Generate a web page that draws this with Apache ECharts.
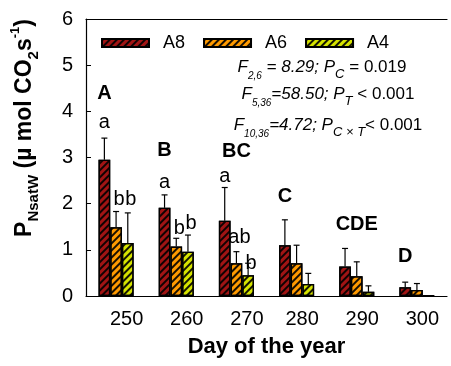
<!DOCTYPE html>
<html>
<head>
<meta charset="utf-8">
<script src="https://cdn.jsdelivr.net/npm/echarts@6/dist/echarts.min.js"></script>
<style>
  html, body { margin: 0; padding: 0; background: #fff; }
  #chart { width: 451px; height: 366px; }
</style>
</head>
<body>
<div id="chart"></div>
<script>
// day of the year
var days = ['250', '260', '270', '280', '290', '300'];
var seriesNames = ['A8', 'A6', 'A4'];

// means
var a8 = [2.95, 1.91, 1.63, 1.10, 0.64, 0.19];
var a6 = [1.49, 1.07, 0.71, 0.71, 0.43, 0.13];
var a4 = [1.15, 0.96, 0.45, 0.26, 0.09, 0.01];

// upper error (SD)
var a8Err = [0.47, 0.28, 0.72, 0.55, 0.39, 0.11];
var a6Err = [0.34, 0.18, 0.25, 0.39, 0.31, 0.14];
var a4Err = [0.65, 0.36, 0.26, 0.23, 0.13, 0];

// significance letters: [day index, bar index, y value, text]
var letters = [
    [0, 0, 4.38, 'A'], [0, 0, 3.75, 'a'], [0, 1, 2.08, 'b'], [0, 2, 2.08, 'b'],
    [1, 0, 3.15, 'B'], [1, 0, 2.45, 'a'], [1, 1, 1.47, 'b'], [1, 2, 1.58, 'b'],
    [2, 1, 3.13, 'BC'], [2, 0, 2.58, 'a'], [2, 1, 1.26, 'ab'], [2, 2, 0.71, 'b'],
    [3, 0, 2.15, 'C'], [4, 1, 1.54, 'CDE'], [5, 0, 0.85, 'D']
];

var colors = ['#a11414', '#ff9a00', '#d6e400'];
var means = [a8, a6, a4];
var errs = [a8Err, a6Err, a4Err];

var FONT = '"Liberation Sans", Arial, sans-serif';
var BAR_W = 11.7;

function hatch() {
    return {
        symbol: 'rect',
        symbolSize: 1,
        color: 'rgba(0,0,0,0.9)',
        dashArrayX: [1, 0],
        dashArrayY: [1.1, 2.6],
        rotation: -Math.PI / 4
    };
}

var chart = echarts.init(document.getElementById('chart'));

var series = [];

// bars
seriesNames.forEach(function (name, k) {
    series.push({
        name: name,
        type: 'bar',
        data: means[k],
        barWidth: BAR_W,
        barGap: '0%',
        itemStyle: {
            color: colors[k],
            borderColor: '#000',
            borderWidth: 1.3,
            decal: hatch()
        },
        z: 2
    });
});

// error bars (upper only)
seriesNames.forEach(function (name, k) {
    var data = means[k].map(function (v, i) { return [i, v, errs[k][i]]; });
    series.push({
        type: 'custom',
        data: data,
        silent: true,
        z: 3,
        renderItem: function (params, api) {
            var i = api.value(0);
            var m = api.value(1);
            var e = api.value(2);
            if (!e) return null;
            var p0 = api.coord([i, m]);
            var p1 = api.coord([i, m + e]);
            var x = p0[0] + (k - 1) * BAR_W;
            var st = { stroke: '#000', lineWidth: 1.2 };
            return {
                type: 'group',
                children: [
                    { type: 'line', shape: { x1: x, y1: p0[1], x2: x, y2: p1[1] }, style: st },
                    { type: 'line', shape: { x1: x - 3, y1: p1[1], x2: x + 3, y2: p1[1] }, style: st }
                ]
            };
        }
    });
});

// letters
series.push({
    type: 'custom',
    data: letters.map(function (d) { return [d[0], d[2], d[1]]; }),
    silent: true,
    z: 4,
    renderItem: function (params, api) {
        var d = letters[params.dataIndex];
        var p = api.coord([api.value(0), api.value(1)]);
        var upper = d[3] === d[3].toUpperCase();
        // lower-case marks sit a little right of their bar, as in the figure
        var nudge = (!upper && api.value(2) > 0) ? 3 : 0;
        return {
            type: 'text',
            x: p[0] + (api.value(2) - 1) * BAR_W + nudge,
            y: p[1],
            style: {
                text: d[3],
                fill: '#000',
                font: (upper ? 'bold ' : '') + '20px ' + FONT,
                align: 'center',
                verticalAlign: 'middle'
            }
        };
    }
});

function statRich() {
    return {
        i: { font: 'italic 17px ' + FONT, fill: '#000', lineHeight: 28, verticalAlign: 'middle' },
        n: { font: '17px ' + FONT, fill: '#000', lineHeight: 28, verticalAlign: 'middle' },
        s: { font: 'italic 10px ' + FONT, fill: '#000', lineHeight: 10, verticalAlign: 'bottom' },
        c: { font: 'italic 13px ' + FONT, fill: '#000', lineHeight: 12, verticalAlign: 'bottom' }
    };
}

var option = {
    animation: false,
    grid: { left: 86, right: 4, top: 19, bottom: 70 },
    legend: {
        data: seriesNames,
        left: 96,
        top: 29,
        itemWidth: 47,
        itemHeight: 8,
        itemGap: 18,
        icon: 'rect',
        textStyle: { fontFamily: FONT, fontSize: 18, color: '#000', padding: [0, 0, 0, 9] }
    },
    xAxis: [{
        type: 'category',
        data: days,
        axisLine: { lineStyle: { color: '#000', width: 1.2 } },
        axisTick: { inside: true, length: 5, lineStyle: { color: '#000' } },
        axisLabel: {
            interval: 0,
            fontFamily: FONT,
            fontSize: 20,
            color: '#000',
            margin: 13,
            formatter: function (v, i) {
                return (i < 3 ? '{s|' : '{t|') + v + '}';
            },
            rich: {
                s: { fontFamily: FONT, fontSize: 20, color: '#000', padding: [0, 0, 0, 21] },
                t: { fontFamily: FONT, fontSize: 20, color: '#000', padding: [0, 0, 0, 11] }
            }
        },
        name: 'Day of the year',
        nameLocation: 'middle',
        nameGap: 40,
        nameTextStyle: { fontFamily: FONT, fontSize: 22, fontWeight: 'bold', color: '#000' }
    }, {
        type: 'category',
        position: 'top',
        data: days,
        axisLine: { show: true, lineStyle: { color: '#000', width: 1.2 } },
        axisTick: { show: false },
        axisLabel: { show: false }
    }],
    yAxis: {
        type: 'value',
        min: 0,
        max: 6,
        interval: 1,
        splitLine: { show: false },
        axisLine: { show: true, lineStyle: { color: '#000', width: 1.2 } },
        axisTick: { show: true, inside: true, length: 5, lineStyle: { color: '#000' } },
        axisLabel: { fontFamily: FONT, fontSize: 20, color: '#000', margin: 13 }
    },
    graphic: [
        {
            type: 'text',
            x: 25,
            y: 128,
            rotation: Math.PI / 2,
            style: {
                text: '{b|P}{sb|NsatW}{b| (µ mol CO}{sb|2}{b|s}{sp|-1}{b|)}',
                align: 'center',
                verticalAlign: 'middle',
                rich: {
                    b: { font: 'bold 23px ' + FONT, fill: '#000', lineHeight: 32, verticalAlign: 'middle' },
                    sb: { font: 'bold 15px ' + FONT, fill: '#000', lineHeight: 15, verticalAlign: 'bottom' },
                    sp: { font: 'bold 13px ' + FONT, fill: '#000', lineHeight: 15, verticalAlign: 'top' }
                }
            }
        },
        {
            type: 'text',
            x: 322,
            y: 67,
            style: {
                text: '{i|F}{s|2,6}{i| = 8.29; P}{c|C}{n| = 0.019}',
                align: 'center',
                verticalAlign: 'middle',
                rich: statRich()
            }
        },
        {
            type: 'text',
            x: 328,
            y: 94,
            style: {
                text: '{i|F}{s|5,36}{i|=58.50; P}{c|T}{n| < 0.001}',
                align: 'center',
                verticalAlign: 'middle',
                rich: statRich()
            }
        },
        {
            type: 'text',
            x: 328,
            y: 125,
            style: {
                text: '{i|F}{s|10,36}{i|=4.72; P}{c|C × T}{n|< 0.001}',
                align: 'center',
                verticalAlign: 'middle',
                rich: statRich()
            }
        }
    ],
    series: series
};

chart.setOption(option);
</script>
</body>
</html>
